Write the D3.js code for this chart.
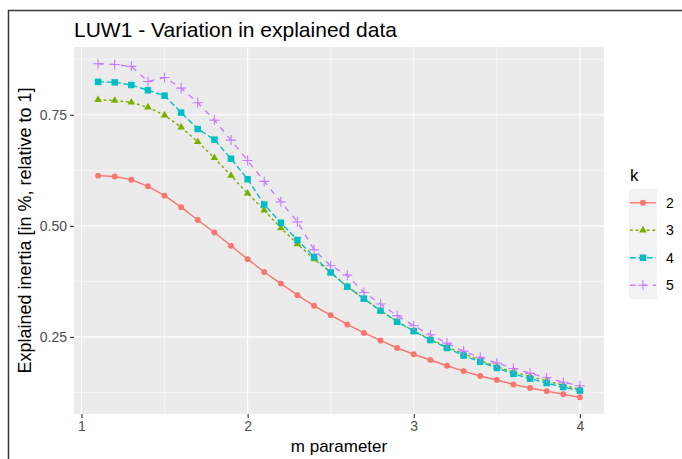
<!DOCTYPE html>
<html>
<head>
<meta charset="utf-8">
<script src="https://cdn.jsdelivr.net/npm/d3@7"></script>
<style>
  html, body { margin: 0; padding: 0; background: #ffffff; }
  svg { display: block; font-family: "Liberation Sans", Arial, sans-serif; }
</style>
</head>
<body>
<svg id="chart" width="682" height="459"></svg>
<script>
// m parameter values (x)
const mValues = [1.1, 1.2, 1.3, 1.4, 1.5, 1.6, 1.7, 1.8, 1.9, 2.0,
                 2.1, 2.2, 2.3, 2.4, 2.5, 2.6, 2.7, 2.8, 2.9, 3.0,
                 3.1, 3.2, 3.3, 3.4, 3.5, 3.6, 3.7, 3.8, 3.9, 4.0];

// Explained inertia for each number of clusters k
const k2 = [0.613, 0.611, 0.604, 0.589, 0.568, 0.542, 0.513, 0.485, 0.455, 0.425,
            0.396, 0.370, 0.344, 0.320, 0.299, 0.278, 0.259, 0.242, 0.225, 0.211,
            0.198, 0.185, 0.173, 0.162, 0.153, 0.143, 0.135, 0.128, 0.121, 0.114];
const k3 = [0.784, 0.782, 0.778, 0.767, 0.749, 0.722, 0.689, 0.653, 0.613, 0.573,
            0.535, 0.495, 0.459, 0.425, 0.395, 0.363, 0.336, 0.309, 0.285, 0.263,
            0.245, 0.227, 0.212, 0.197, 0.183, 0.171, 0.161, 0.151, 0.141, 0.132];
const k4 = [0.824, 0.823, 0.817, 0.805, 0.793, 0.755, 0.718, 0.694, 0.651, 0.605,
            0.548, 0.507, 0.468, 0.430, 0.395, 0.363, 0.336, 0.309, 0.284, 0.263,
            0.243, 0.225, 0.208, 0.194, 0.180, 0.167, 0.156, 0.146, 0.137, 0.129];
const k5 = [0.865, 0.863, 0.859, 0.825, 0.834, 0.810, 0.777, 0.738, 0.693, 0.647,
            0.600, 0.554, 0.509, 0.446, 0.410, 0.389, 0.350, 0.324, 0.298, 0.275,
            0.255, 0.236, 0.218, 0.204, 0.191, 0.179, 0.168, 0.158, 0.148, 0.140];

const kLabels = ["2", "3", "4", "5"];
const xTicks = [1, 2, 3, 4];
const xMinor = [1.5, 2.5, 3.5];
const yTicks = [0.25, 0.50, 0.75];
const yMinor = [0.125, 0.375, 0.625, 0.875];

const titleText = "LUW1 - Variation in explained data";
const xTitle = "m parameter";
const yTitle = "Explained inertia [in %, relative to 1]";
const legendTitle = "k";

// series styling
const colors = ["#F8766D", "#7CAE00", "#00BFC4", "#C77CFF"];
const dashes = [null, "2.8,2.8", "5.7,2.8", "5.7,5.7"];
const shapes = ["circle", "triangle", "square", "plus"];

const seriesValues = [k2, k3, k4, k5];
const series = kLabels.map((k, i) => ({
  key: k,
  color: colors[i],
  dash: dashes[i],
  shape: shapes[i],
  points: mValues.map((m, j) => ({ m: m, v: seriesValues[i][j] }))
}));

const svg = d3.select("#chart");

// frame lines
svg.append("line").attr("x1", 8).attr("x2", 682).attr("y1", 10.5).attr("y2", 10.5)
  .attr("stroke", "#3a3a3a").attr("stroke-width", 1.5);
svg.append("line").attr("x1", 8.5).attr("x2", 8.5).attr("y1", 10).attr("y2", 459)
  .attr("stroke", "#3a3a3a").attr("stroke-width", 1.5);

// panel geometry
const panel = { left: 74, right: 604, top: 47, bottom: 414 };

function expand(ext, f) {
  const r = ext[1] - ext[0];
  return [ext[0] - r * f, ext[1] + r * f];
}

const allV = seriesValues.flat();
const x = d3.scaleLinear().domain(expand(d3.extent(mValues), 0.05)).range([panel.left, panel.right]);
const y = d3.scaleLinear().domain(expand(d3.extent(allV), 0.05)).range([panel.bottom, panel.top]);

// panel background
svg.append("rect")
  .attr("x", panel.left).attr("y", panel.top)
  .attr("width", panel.right - panel.left).attr("height", panel.bottom - panel.top)
  .attr("fill", "#EBEBEB");

const grid = svg.append("g");
grid.selectAll("line.ymin").data(yMinor).join("line")
  .attr("x1", panel.left).attr("x2", panel.right)
  .attr("y1", d => y(d)).attr("y2", d => y(d))
  .attr("stroke", "#fff").attr("stroke-width", 0.55);
grid.selectAll("line.xmin").data(xMinor).join("line")
  .attr("y1", panel.top).attr("y2", panel.bottom)
  .attr("x1", d => x(d)).attr("x2", d => x(d))
  .attr("stroke", "#fff").attr("stroke-width", 0.55);
grid.selectAll("line.ymaj").data(yTicks).join("line")
  .attr("x1", panel.left).attr("x2", panel.right)
  .attr("y1", d => y(d)).attr("y2", d => y(d))
  .attr("stroke", "#fff").attr("stroke-width", 1.1);
grid.selectAll("line.xmaj").data(xTicks).join("line")
  .attr("y1", panel.top).attr("y2", panel.bottom)
  .attr("x1", d => x(d)).attr("x2", d => x(d))
  .attr("stroke", "#fff").attr("stroke-width", 1.1);

// axes
const xAxis = d3.axisBottom(x).tickValues(xTicks).tickFormat(d3.format("d"))
  .tickSizeInner(4).tickSizeOuter(0).tickPadding(3);
const gx = svg.append("g").attr("transform", `translate(0,${panel.bottom})`).call(xAxis);
const yAxis = d3.axisLeft(y).tickValues(yTicks).tickFormat(d3.format(".2f"))
  .tickSizeInner(4).tickSizeOuter(0).tickPadding(3);
const gy = svg.append("g").attr("transform", `translate(${panel.left},0)`).call(yAxis);

[gx, gy].forEach(g => {
  g.select(".domain").remove();
  g.selectAll(".tick line").attr("stroke", "#333333").attr("stroke-width", 1.1);
  g.selectAll(".tick text").attr("fill", "#4D4D4D")
    .style("font-size", "14px").style("font-family", "Liberation Sans, Arial, sans-serif");
});

// lines and markers
const line = d3.line().x(d => x(d.m)).y(d => y(d.v));

function drawShape(sel, shape, color, size) {
  if (shape === "circle") {
    sel.append("circle").attr("r", size * 0.5).attr("fill", color);
  } else if (shape === "triangle") {
    const s = size * 1.3;
    const h = s * Math.sqrt(3) / 2;
    sel.append("path")
      .attr("d", `M0,${-h * 2 / 3}L${s / 2},${h / 3}L${-s / 2},${h / 3}Z`)
      .attr("fill", color);
  } else if (shape === "square") {
    const s = size * 1.1;
    sel.append("rect").attr("x", -s / 2).attr("y", -s / 2).attr("width", s).attr("height", s)
      .attr("fill", color);
  } else if (shape === "plus") {
    const a = size * 0.85;
    sel.append("path").attr("d", `M${-a},0H${a}M0,${-a}V${a}`)
      .attr("stroke", color).attr("stroke-width", 1.1).attr("fill", "none");
  }
}

const plot = svg.append("g");
series.forEach(s => {
  plot.append("path").datum(s.points)
    .attr("d", line)
    .attr("fill", "none")
    .attr("stroke", s.color)
    .attr("stroke-width", 1.4)
    .attr("stroke-dasharray", s.dash);
});
series.forEach(s => {
  s.points.forEach(p => {
    const g = plot.append("g").attr("transform", `translate(${x(p.m)},${y(p.v)})`);
    drawShape(g, s.shape, s.color, 5.9);
  });
});

// titles
svg.append("text").attr("x", panel.left).attr("y", 37)
  .attr("font-size", 21).attr("fill", "#000").text(titleText);
svg.append("text").attr("x", (panel.left + panel.right) / 2).attr("y", 452)
  .attr("text-anchor", "middle").attr("font-size", 17).attr("fill", "#000").text(xTitle);
svg.append("text")
  .attr("transform", `translate(31,${(panel.top + panel.bottom) / 2}) rotate(-90)`)
  .attr("text-anchor", "middle").attr("font-size", 18).attr("fill", "#000").text(yTitle);

// legend
const legend = svg.append("g").attr("transform", "translate(629,0)");
legend.append("text").attr("x", 1).attr("y", 181).attr("font-size", 17).attr("fill", "#000").text(legendTitle);
const keyW = 28, keyH = 27.5, keyTop = 189;
series.forEach((s, i) => {
  const gy0 = keyTop + i * keyH;
  const k = legend.append("g");
  k.append("rect").attr("x", 0).attr("y", gy0).attr("width", keyW).attr("height", keyH).attr("fill", "#F2F2F2");
  k.append("line").attr("x1", 1).attr("x2", keyW - 1).attr("y1", gy0 + keyH / 2).attr("y2", gy0 + keyH / 2)
    .attr("stroke", s.color).attr("stroke-width", 1.4).attr("stroke-dasharray", s.dash);
  const m = k.append("g").attr("transform", `translate(${keyW / 2},${gy0 + keyH / 2})`);
  drawShape(m, s.shape, s.color, 5.9);
  k.append("text").attr("x", keyW + 9).attr("y", gy0 + keyH / 2 + 5)
    .attr("font-size", 14).attr("fill", "#000").text(s.key);
});
</script>
</body>
</html>
